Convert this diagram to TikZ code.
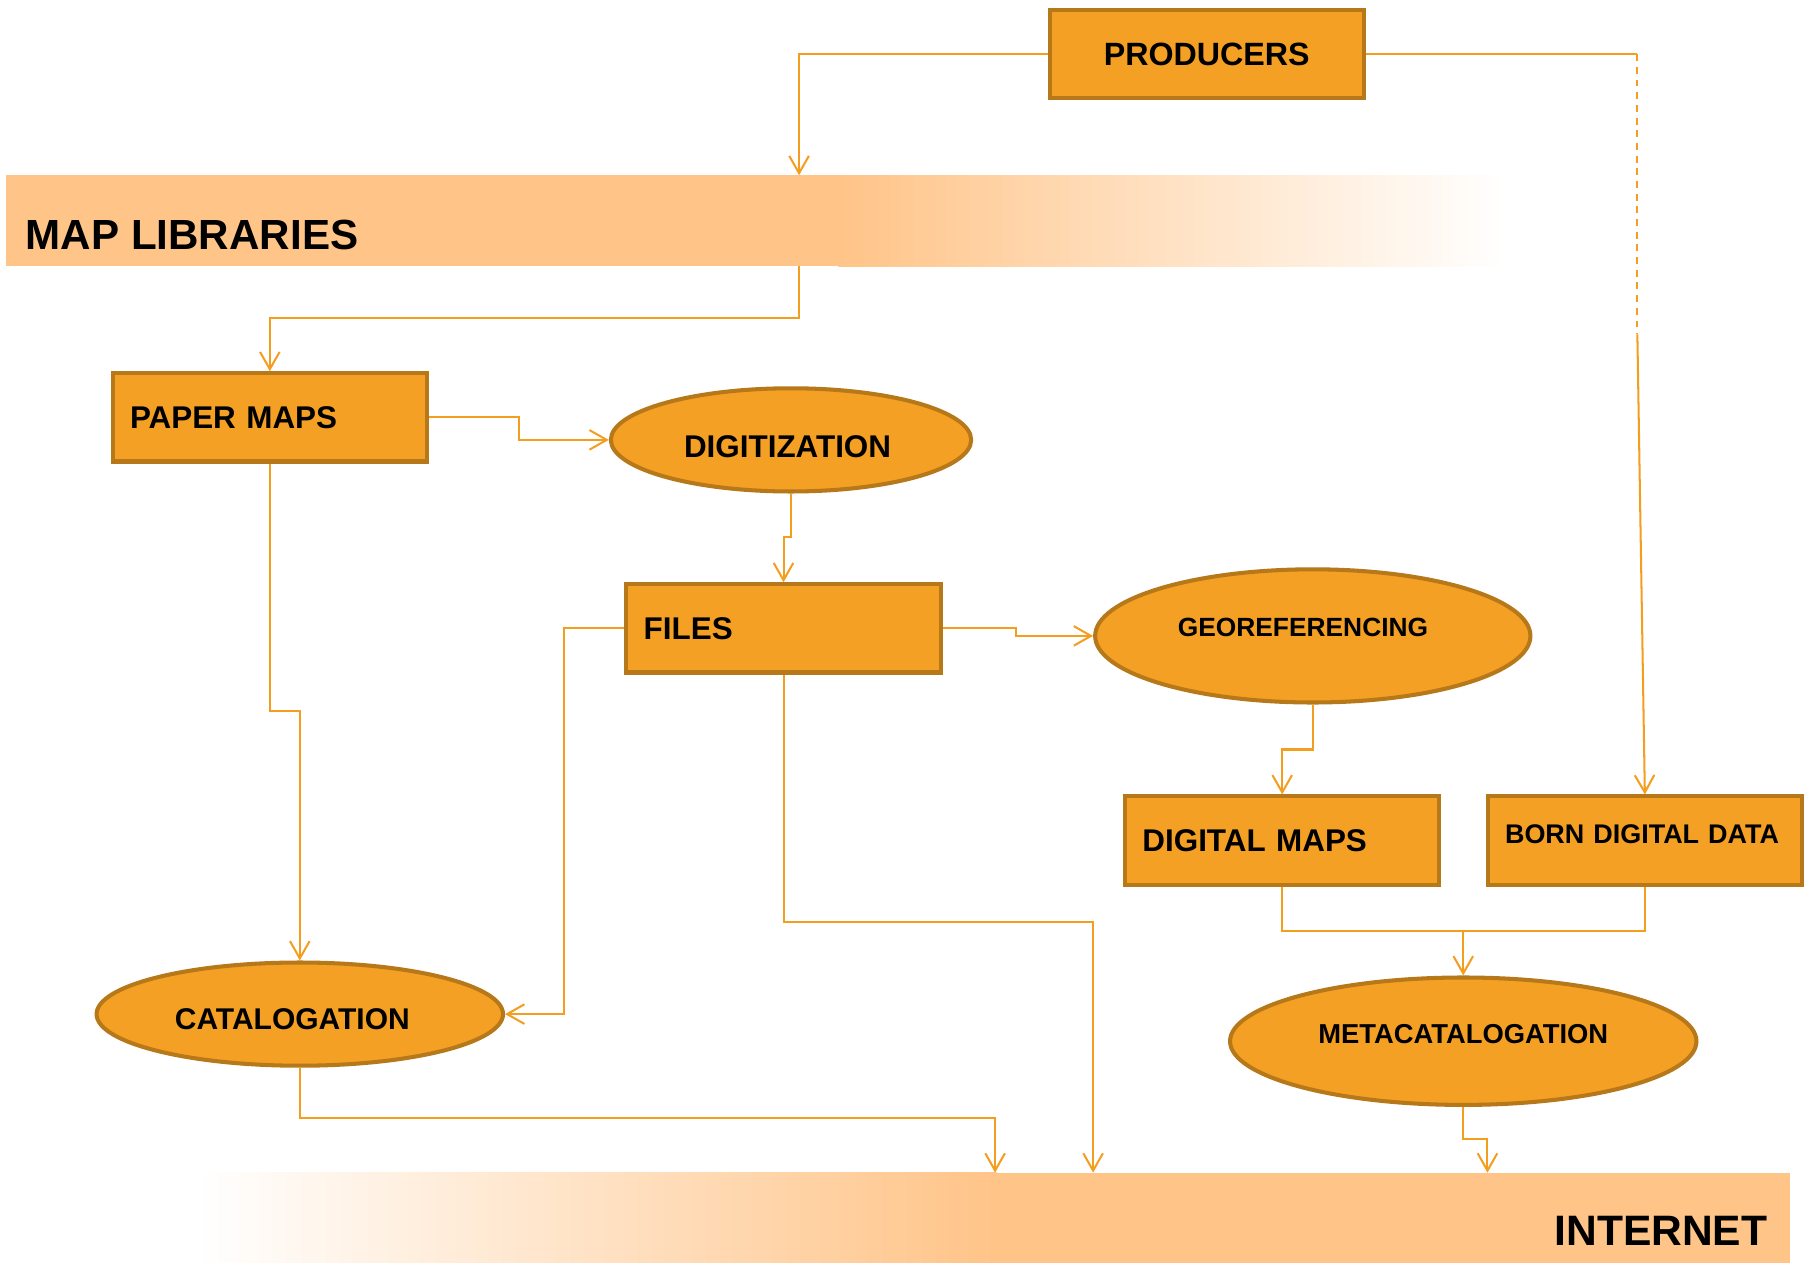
\documentclass[tikz,border=0pt]{standalone}
\usepackage{fontspec}
\setmainfont{Liberation Sans}
\usetikzlibrary{arrows.meta,calc,shapes}
\definecolor{boxfill}{RGB}{244,160,36}
\definecolor{boxline}{RGB}{183,120,26}
\definecolor{wire}{RGB}{244,158,32}
\definecolor{band}{RGB}{255,196,136}
\tikzset{>={Straight Barb[length=3mm,width=3.4mm]}}
\tikzset{
  box/.style={rectangle, draw=boxline, fill=boxfill, line width=2pt,
    minimum height=1.53cm, inner xsep=0.3cm, text width=4.85cm, align=left,
    font=\bfseries\fontsize{15.5}{18}\selectfont},
  ell/.style={ellipse, draw=boxline, fill=boxfill, line width=2pt, inner sep=0pt},
  bandtext/.style={font=\bfseries\fontsize{20.8}{24}\selectfont, inner sep=0pt}
}

\begin{document}
\begin{tikzpicture}
\useasboundingbox (0,0) rectangle (31.36,21.94);
% bands
\fill[band] (0.1,17.32) rectangle (14.56,18.90);
\shade[left color=band, right color=white] (14.54,17.32) rectangle (26.08,18.90);
\shade[left color=white, right color=band] (3.42,0.04) rectangle (17.28,1.60);
\fill[band] (17.26,0.04) rectangle (31.04,1.60);
\node[bandtext, anchor=base west] (maplib) at (0.44,17.62) {MAP LIBRARIES};
\node[bandtext, anchor=base east, font=\bfseries\fontsize{21}{24}\selectfont] (internet) at (30.66,0.34) {INTERNET};
\coordinate (libtop) at (13.86,18.90);
\coordinate (libbot) at (13.86,17.32);
\coordinate (neta) at (17.26,1.60);
\coordinate (netb) at (18.96,1.60);
\coordinate (netc) at (25.80,1.60);
\coordinate (bend) at (28.40,16.14);
\coordinate (join) at (25.38,5.80);
% boxes
\node[box, align=center, font=\bfseries\fontsize{15.9}{18}\selectfont] (producers) at (20.93,21.00) {PRODUCERS};
\node[box] (paper) at (4.68,14.70) {PAPER MAPS};
\node[box] (files) at (13.59,11.04) {FILES};
\node[box] (dmaps) at (22.24,7.36) {DIGITAL MAPS};
\node[box, text depth=0.22cm, font=\bfseries\fontsize{13.3}{15}\selectfont] (born) at (28.53,7.36) {BORN DIGITAL DATA};
% ellipses
\node[ell, minimum width=6.25cm, minimum height=1.79cm,
  label={[font=\bfseries\fontsize{15.5}{18}\selectfont, shift={(-0.06,-0.11)}]center:DIGITIZATION}] (digit) at (13.72,14.31) {};
\node[ell, minimum width=7.55cm, minimum height=2.31cm,
  label={[font=\bfseries\fontsize{13}{15}\selectfont, shift={(-0.17,0.14)}]center:GEOREFERENCING}] (geo) at (22.77,10.91) {};
\node[ell, minimum width=7.05cm, minimum height=1.79cm,
  label={[font=\bfseries\fontsize{14.8}{17}\selectfont, shift={(-0.13,-0.08)}]center:CATALOGATION}] (catalog) at (5.20,4.35) {};
\node[ell, minimum width=8.09cm, minimum height=2.21cm,
  label={[font=\bfseries\fontsize{13.5}{15}\selectfont, shift={(0,0.12)}]center:METACATALOGATION}] (metacat) at (25.38,3.88) {};
\begin{scope}[draw=wire, line width=1pt]
\draw[->] (producers.west) -| (libtop);
\draw (producers.east) -- (producers.east -| bend);
\draw[dash pattern=on 0.12cm off 0.1cm] (producers.east -| bend) -- (bend);
\draw[->] (bend) -- (born.north);
\draw[->] (libbot) -- ++(0,-0.9) -| (paper.north);
\draw[->] (paper.east) -- ++(1.56,0) |- (digit.west);
\draw[->] (digit.south) -- ++(0,-0.76) -| (files.north);
\draw[->] (files.east) -- ++(1.28,0) |- (geo.west);
\draw[->] (geo.south) -- ++(0,-0.78) -| (dmaps.north);
\draw[->] (paper.south) -- ++(0,-4.30) -| (catalog.north);
\draw[->] (files.west) -- ++(-1.04,0) |- (catalog.east);
\draw[->] (files.south) -- ++(0,-4.30) -| (netb);
\draw[->] (catalog.south) -- ++(0,-0.88) -| (neta);
\draw (dmaps.south) |- (join) -| (born.south);
\draw[->] (join) -- (metacat.north);
\draw[->] (metacat.south) -- ++(0,-0.56) -| (netc);
\end{scope}
%\draw[help lines] (0,0) grid (31,21);
\end{tikzpicture}
\end{document}
